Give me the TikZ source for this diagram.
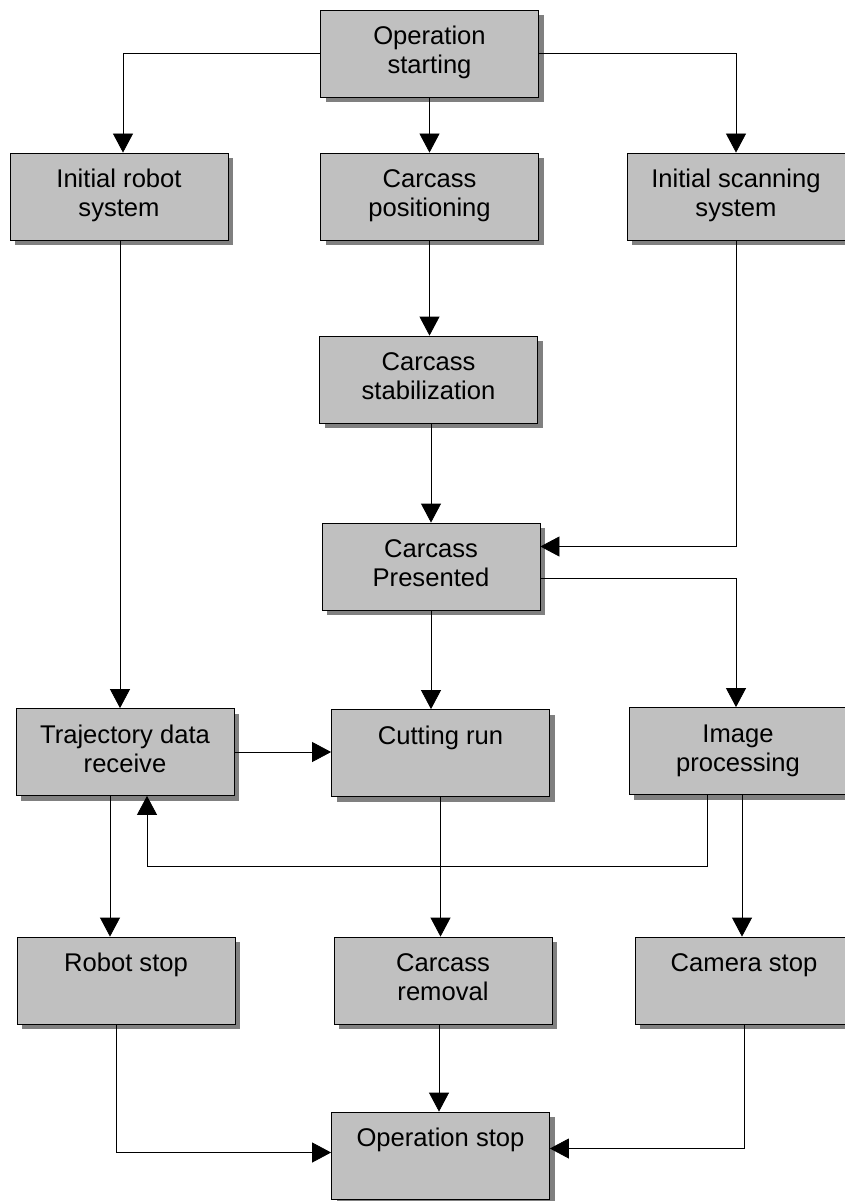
\documentclass[tikz,border=0pt]{standalone}
\usepackage{fontspec}
\setmainfont{Liberation Sans}
\usetikzlibrary{arrows.meta,shadows,calc}
\definecolor{boxgray}{RGB}{192,192,192}
\definecolor{shadowgray}{RGB}{128,128,128}
\tikzset{
  box/.style={draw=black, line width=0.8pt, fill=boxgray, minimum width=218pt, minimum height=87pt,
    inner sep=0pt, align=center, font=\fontsize{25.6}{29}\selectfont,
    drop shadow={shadow xshift=5pt, shadow yshift=-5pt, fill=shadowgray, opacity=1, draw=none}},
  arr/.style={draw=black, line width=0.8pt, -{Triangle[width=20pt,length=19pt]}}
}
\begin{document}
\begin{tikzpicture}[x=1pt,y=-1pt]
\useasboundingbox (0,0) rectangle (845,1201);
\fill[white] (0,0) rectangle (845,1201);
% boxes
\node[box] (os)  at (429.5,53.5)  {\strut Operation\\\strut starting};
\node[box] (rb)  at (119,196.5)   {\strut Initial robot\\\strut system};
\node[box] (cp)  at (429.5,196.5) {\strut Carcass\\\strut positioning};
\node[box] (sc)  at (736,196.5)   {\strut Initial scanning\\\strut system};
\node[box] (cs)  at (428.5,379.5) {\strut Carcass\\\strut stabilization};
\node[box] (pr)  at (431,566.5)   {\strut Carcass\\\strut Presented};
\node[box] (tr)  at (125,752)     {\strut Trajectory data\\\strut receive};
\node[box] (cr)  at (440.5,753)   {\strut Cutting run\\\strut};
\node[box] (ip)  at (738,751)     {\strut Image\\\strut processing};
\node[box] (rs)  at (126,980.5)   {\strut Robot stop\\\strut};
\node[box] (rm)  at (443,980.5)   {\strut Carcass\\\strut removal};
\node[box] (cm)  at (744,980.5)   {\strut Camera stop\\\strut};
\node[box] (ost) at (440.5,1155.5){\strut Operation stop\\\strut};
% connectors
\draw[arr] (os.west) -| ([xshift=4pt]rb.north);
\draw[arr] (os.south) -- (cp.north);
\draw[arr] (os.east) -| (sc.north);
\draw[arr] ([xshift=1pt]rb.south) -- ([xshift=1pt]rb.south |- tr.north);
\draw[arr] (cp.south) -- (cp.south |- cs.north);
\draw[arr] (pr.north |- cs.south) -- (pr.north);
\draw[arr] (sc.south) |- ([yshift=20pt]pr.east);
\draw[arr] ([yshift=-12pt]pr.east) -| ([xshift=-2pt]ip.north);
\draw[arr] (pr.south) -- (pr.south |- cr.north);
\draw[arr] (tr.east) -- (tr.east -| cr.west);
\draw[arr] ([xshift=-31pt]ip.south) -- ++(0,71) -| ([xshift=22pt]tr.south);
\draw[arr] ([xshift=4pt]ip.south) -- ([xshift=4pt]ip.south |- cm.north);
\draw[arr] ([xshift=-15pt]tr.south) -- ([xshift=-15pt]tr.south |- rs.north);
\draw[arr] (cr.south) -- (cr.south |- rm.north);
\draw[arr] ([xshift=-10pt]rs.south) |- ([yshift=3pt]ost.west);
\draw[arr] ([xshift=-4pt]rm.south) -- ([xshift=-4pt]rm.south |- ost.north);
\draw[arr] (cm.south) |- ([yshift=7pt]ost.east);
\end{tikzpicture}
\end{document}
